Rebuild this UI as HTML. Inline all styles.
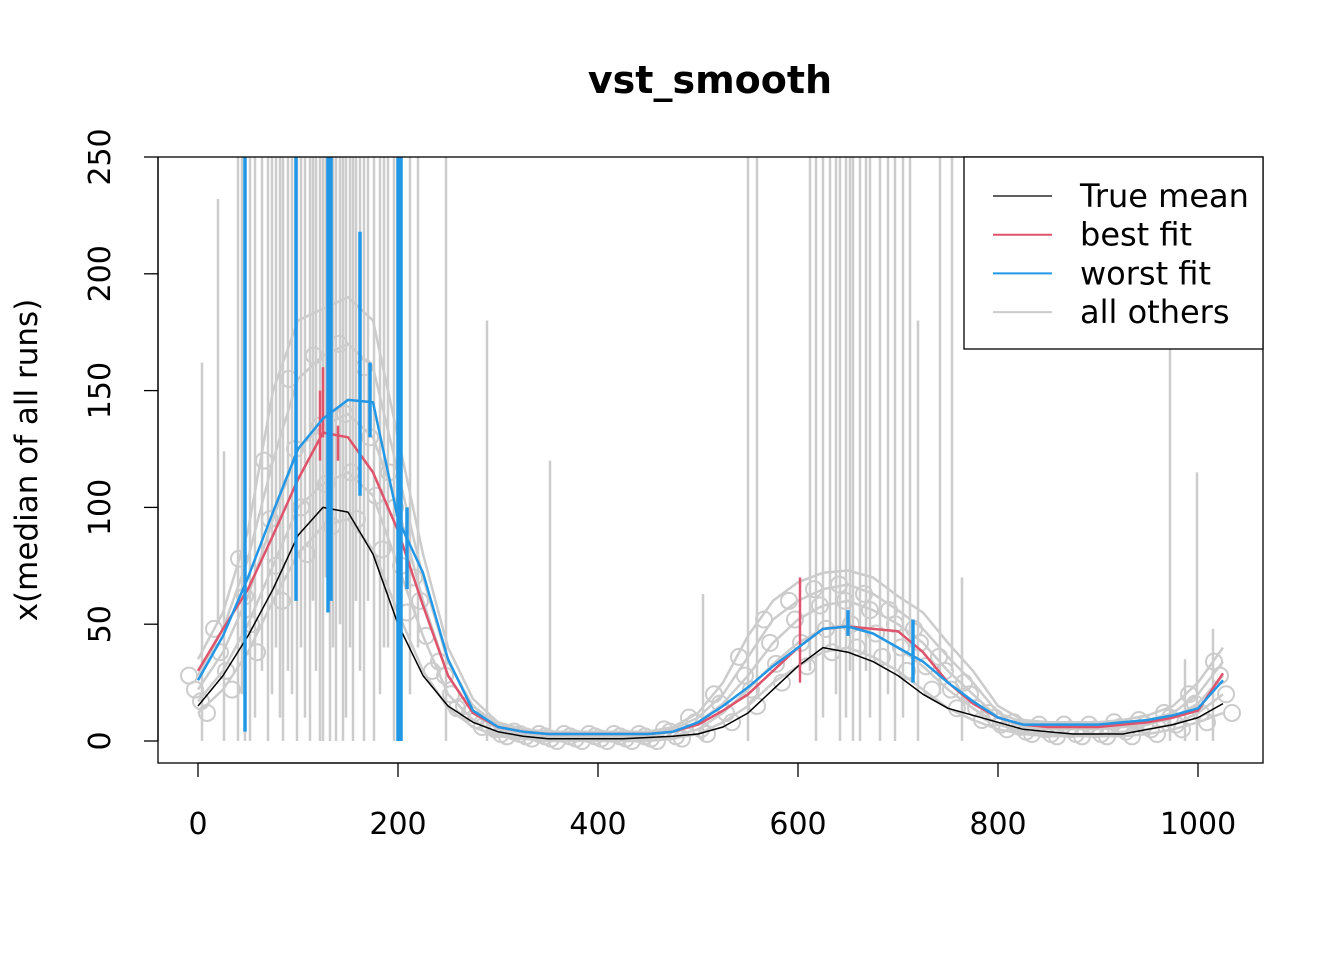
<!DOCTYPE html>
<html><head><meta charset="utf-8"><style>
body{margin:0;background:#fff}
svg{display:block;font-family:"DejaVu Sans","Liberation Sans",sans-serif}
</style></head><body>
<svg id="c" width="1344" height="960">
<text x="710" y="93" text-anchor="middle" font-size="38" font-weight="bold">vst_smooth</text>
<g id="plot"></g>
<rect x="158" y="157" width="1105" height="606" fill="none" stroke="#000" stroke-width="1.3"/>
<g id="xaxis"></g>
<g id="yaxis"></g>
<text transform="translate(37,460) rotate(-90)" text-anchor="middle" font-size="31">x(median of all runs)</text>
<g id="legend">
<rect x="964" y="157" width="299" height="192" fill="#fff" stroke="#000" stroke-width="1.3"/>
</g>
</svg>
<script>
const xs=[0,25,50,75,100,125,150,175,200,225,250,275,300,325,350,375,400,425,450,475,500,525,550,575,600,625,650,675,700,725,750,775,800,825,850,875,900,925,950,975,1000,1025];
const trueMean=[15,28,45,65,88,100,98,80,50,28,15,8,4,2,1,1,1,1,1.5,2,3,6,12,22,32,40,38,34,28,20,14,11,8,5,4,3,3,3,5,7,10,16];
const bestFit=[30,48,65,88,112,132,130,115,90,58,28,12,6,4,3,3,3,3,3,4,7,13,20,30,40,48,49,48,47,38,25,16,10,7,6,6,6,7,8,10,13,29];
const worstFit=[26,45,70,98,125,138,146,145,95,72,35,13,6,4,3,3,3,3,3,4,8,15,23,32,40,48,49,46,40,34,25,17,10,7,7,7,7,8,9,11,14,26];
const greyHigh=[35,55,90,150,180,185,190,180,130,80,40,18,8,5,4,4,4,4,4,6,12,25,45,60,68,72,73,70,62,55,42,30,15,9,8,8,8,9,11,15,25,40];
const greyMidHigh=[28,48,78,120,155,165,170,160,115,70,34,15,7,4,3,3,3,3,3,5,10,20,36,52,60,65,67,63,56,48,36,25,12,8,7,7,7,8,9,12,20,34];
const greyMid=[22,38,62,95,125,135,140,130,100,60,28,12,5,3,2,2,2,2,2,4,8,16,28,42,52,58,60,56,50,42,30,20,10,6,5,5,5,6,7,10,16,28];
const greyMidLow=[17,30,50,75,100,110,115,105,75,45,20,9,3,2,1,1,1,1,1,2,5,12,22,33,42,48,50,46,40,32,22,14,7,4,3,3,3,4,5,7,12,20];
const greyLow=[12,22,38,60,80,92,95,82,55,30,14,6,2,1,0,0,0,0,0,1,3,8,15,25,32,38,40,36,30,22,14,9,5,3,2,2,2,2,3,5,8,12];
const spikeX=[4,20,26,40,44,47,52,57,64,70,74,78,82,85,90,94,99,103,107,112,115,118,122,125,128,132,135,138,142,145,148,152,155,158,162,166,170,176,182,186,190,196,202,212,220,248,289,352,505,550,559,612,618,625,632,638,642,648,652,655,662,668,672,682,690,697,705,712,720,742,754,764,972,987,999,1015];
const spikeTop=[162,232,124,250,250,250,250,250,250,250,250,250,250,250,250,250,250,250,250,250,250,250,250,250,250,250,250,250,250,250,250,250,250,250,250,250,250,250,250,250,250,250,250,250,250,250,180,120,63,250,250,250,250,250,250,250,250,250,250,250,250,250,250,250,250,250,250,250,180,250,250,70,170,35,115,48];
const spikeBot=[0,50,0,0,20,0,0,10,30,0,20,40,10,0,30,20,0,40,10,0,60,30,0,0,70,0,40,0,50,0,10,40,0,60,30,0,60,0,20,40,40,0,0,20,40,0,0,0,0,0,20,30,0,10,40,20,0,10,30,0,0,30,10,0,20,0,10,40,0,20,30,0,0,0,0,0];
const blueSpikeX=[47,98,130,133,162,172,200,203,209,650,715];
const blueSpikeLo=[4,60,55,60,105,130,0,0,65,45,25];
const blueSpikeHi=[250,250,250,250,218,162,250,250,100,56,52];
const redSpikeX=[122,125,140,602];
const redSpikeLo=[120,130,120,25];
const redSpikeHi=[150,160,135,70];
const xTicks=[0,200,400,600,800,1000];
const yTicks=[0,50,100,150,200,250];
const legendLabels=["True mean","best fit","worst fit","all others"];
const legendColors=["#000","#DF536B","#2297E6","#CCCCCC"];

const NS="http://www.w3.org/2000/svg";
const X=v=>198+v*1.0, Y=v=>741-v*2.336;
const plot=document.getElementById('plot');
function mk(t,a,p){const e=document.createElementNS(NS,t);for(const k in a)e.setAttribute(k,a[k]);(p||plot).appendChild(e);return e;}
const clip=mk('clipPath',{id:'cl'});mk('rect',{x:158,y:157,width:1105,height:606},clip);
const g=mk('g',{'clip-path':'url(#cl)'});
function line(vals,col,w){const d=vals.map((v,i)=>(i?'L':'M')+X(xs[i]).toFixed(1)+' '+Y(v).toFixed(1)).join('');const e=mk('path',{d:d,fill:'none',stroke:col,'stroke-width':w,'stroke-linejoin':'round'},g);return e;}
spikeX.forEach((x,i)=>{const e=mk('line',{x1:X(x),x2:X(x),y1:Y(spikeBot[i]),y2:Y(spikeTop[i]),stroke:'#ccc','stroke-width':2.5},g);

});
[greyHigh,greyMidHigh,greyMid,greyMidLow,greyLow].forEach(s=>{const e=line(s,'#ccc',2.5);

});
[greyMidHigh,greyMid,greyMidLow,greyLow].forEach((s,k)=>s.forEach((v,i)=>{const e=mk('circle',{cx:X(xs[i])+k*6-9,cy:Y(v),r:8,fill:'none',stroke:'#ccc','stroke-width':2},g);

}));
let e=line(trueMean,'#000',1.5);


e=line(bestFit,'#DF536B',2.5);


redSpikeX.forEach((x,i)=>{const s=mk('line',{x1:X(x),x2:X(x),y1:Y(redSpikeLo[i]),y2:Y(redSpikeHi[i]),stroke:'#DF536B','stroke-width':2.5},g);

});
e=line(worstFit,'#2297E6',2.5);


blueSpikeX.forEach((x,i)=>{const s=mk('line',{x1:X(x),x2:X(x),y1:Y(blueSpikeLo[i]),y2:Y(blueSpikeHi[i]),stroke:'#2297E6','stroke-width':3.5},g);

});
const xa=document.getElementById('xaxis'),ya=document.getElementById('yaxis');
mk('line',{x1:X(0),x2:X(1000),y1:763,y2:763,stroke:'#000','stroke-width':1.3},xa);
xTicks.forEach(t=>{mk('line',{x1:X(t),x2:X(t),y1:763,y2:777,stroke:'#000','stroke-width':1.3},xa);
const l=mk('text',{x:X(t),y:834,'text-anchor':'middle','font-size':30},xa);l.textContent=t;

});
mk('line',{x1:158,x2:158,y1:Y(0),y2:Y(250),stroke:'#000','stroke-width':1.3},ya);
yTicks.forEach(t=>{mk('line',{x1:144,x2:158,y1:Y(t),y2:Y(t),stroke:'#000','stroke-width':1.3},ya);
const l=mk('text',{transform:`translate(110,${Y(t)}) rotate(-90)`,'text-anchor':'middle','font-size':30},ya);l.textContent=t;

});
const lg=document.getElementById('legend');
legendLabels.forEach((s,i)=>{const y=196+i*38.7;
const ln=mk('line',{x1:993,x2:1052,y1:y,y2:y,stroke:legendColors[i],'stroke-width':i?2:1.3},lg);


const t=mk('text',{x:1080,y:y+11,'font-size':32},lg);t.textContent=s;

});
</script>
</body></html>
